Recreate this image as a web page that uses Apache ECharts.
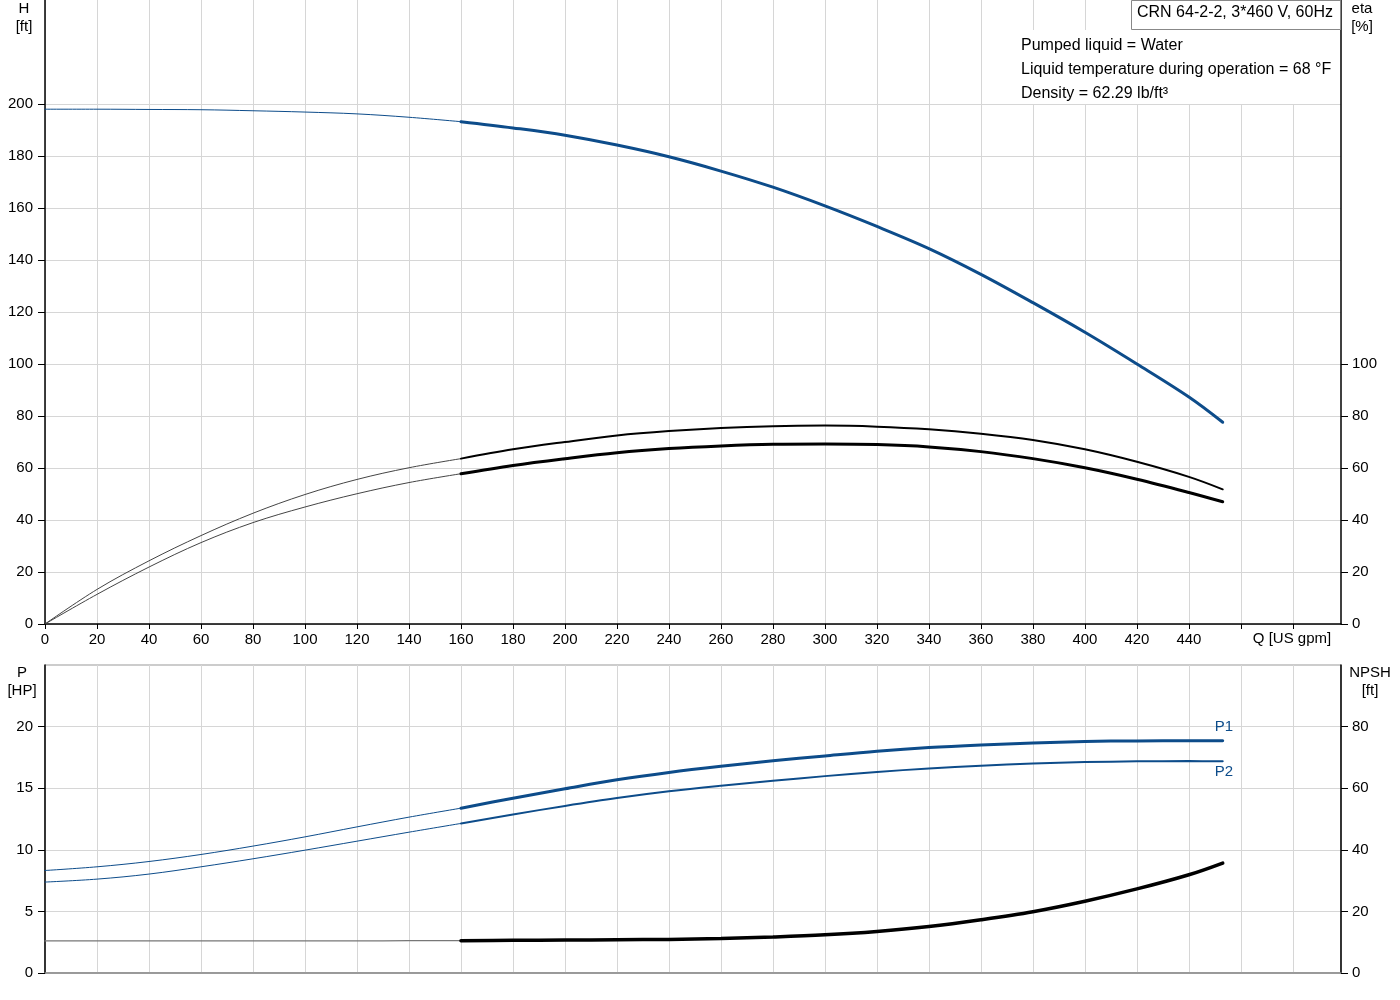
<!DOCTYPE html>
<html>
<head>
<meta charset="utf-8">
<script src="https://cdn.jsdelivr.net/npm/echarts@6/dist/echarts.min.js"></script>
<style>
  html, body { margin: 0; padding: 0; background: #fff; }
  #chart { width: 1400px; height: 1000px; }
</style>
</head>
<body>
<div id="chart"></div>
<script>
// flow points, thin (extrapolated) part and main part of each curve
var qThin = [0, 20, 40, 60, 80, 100, 120, 140, 160];
var qMain = [160, 180, 200, 220, 240, 260, 280, 300, 320, 340, 360, 380, 400, 420, 440, 453];

// head H [ft]
var hThin = [198.0, 198.0, 197.9, 197.8, 197.4, 196.9, 196.2, 194.9, 193.2];
var hMain = [193.2, 190.8, 188.0, 184.2, 179.7, 174.2, 168.0, 160.8, 152.9, 144.4, 134.5, 123.6, 112.2, 100.0, 87.3, 77.6];

// efficiencies eta [%]
var etaPThin = [0, 13.3, 24.3, 34.0, 42.6, 49.8, 55.6, 60.1, 63.6];
var etaPMain = [63.6, 67.2, 70.0, 72.5, 74.2, 75.4, 76.1, 76.3, 75.9, 74.9, 73.2, 70.8, 67.2, 62.4, 56.6, 51.8];
var etaTThin = [0, 11.4, 21.9, 31.3, 39.0, 45.0, 50.1, 54.4, 57.8];
var etaTMain = [57.8, 61.0, 63.6, 65.9, 67.5, 68.5, 69.1, 69.2, 69.0, 68.1, 66.3, 63.6, 60.1, 55.7, 50.6, 47.0];

// power P [HP]
var p1Thin = [8.32, 8.62, 9.05, 9.62, 10.3, 11.05, 11.86, 12.65, 13.38];
var p1Main = [13.38, 14.19, 14.95, 15.68, 16.28, 16.78, 17.22, 17.62, 18.0, 18.3, 18.51, 18.67, 18.79, 18.84, 18.86, 18.85];
var p2Thin = [7.38, 7.62, 8.03, 8.62, 9.27, 9.97, 10.7, 11.43, 12.14];
var p2Main = [12.14, 12.87, 13.56, 14.2, 14.75, 15.2, 15.6, 15.98, 16.32, 16.6, 16.83, 17.0, 17.12, 17.18, 17.2, 17.18];

// NPSH [ft]
var npshThin = [10.4, 10.4, 10.4, 10.4, 10.4, 10.4, 10.4, 10.5, 10.5];
var npshMain = [10.5, 10.6, 10.7, 10.8, 10.9, 11.2, 11.7, 12.4, 13.5, 15.1, 17.3, 19.9, 23.3, 27.3, 31.9, 35.7];

// tick labels
var qLabels = [0, 20, 40, 60, 80, 100, 120, 140, 160, 180, 200, 220, 240, 260, 280, 300, 320, 340, 360, 380, 400, 420, 440];
var qTicks = qLabels.concat([460, 480]);
var hLabels = [0, 20, 40, 60, 80, 100, 120, 140, 160, 180, 200];
var etaLabels = [0, 20, 40, 60, 80, 100];
var pLabels = [0, 5, 10, 15, 20];
var npshLabels = [0, 20, 40, 60, 80];

var BLUE = '#0d4c8a';
var FONT = 'Liberation Sans, Arial, sans-serif';

function pts(xs, ys) {
    return xs.map(function (x, i) { return [x, ys[i]]; });
}

function line(name, data, x, y, color, width) {
    return {
        name: name, type: 'line', xAxisIndex: x, yAxisIndex: y,
        data: data, smooth: 0.35, symbol: 'none', showSymbol: false,
        silent: true, animation: false,
        lineStyle: { color: color, width: width, cap: 'round' }
    };
}

// end-of-curve name (P1 / P2)
function withEndLabel(s, text, dy) {
    s.endLabel = {
        show: true, formatter: text, offset: [-16, dy],
        color: BLUE, fontSize: 15, fontFamily: FONT
    };
    return s;
}

var chart = echarts.init(document.getElementById('chart'));

var axLabel = { fontSize: 15, color: '#000', fontFamily: FONT };
var gridLine = { show: true, lineStyle: { color: '#d6d6d6', width: 1 } };

var option = {
    animation: false,
    grid: [
        { left: 45, right: 59, top: 0, height: 624 },
        { left: 45, right: 59, top: 665, height: 308, show: true, borderColor: '#999', borderWidth: 1 }
    ],
    xAxis: [
        {
            gridIndex: 0, type: 'value', min: 0, max: 498.5, interval: 20,
            axisLine: { show: true, lineStyle: { color: '#000', width: 1.5 } },
            axisTick: { show: true, length: 5, customValues: qTicks, lineStyle: { color: '#000' } },
            axisLabel: Object.assign({ margin: 8, customValues: qLabels }, axLabel),
            splitLine: gridLine
        },
        {
            gridIndex: 1, type: 'value', min: 0, max: 498.5, interval: 20,
            axisLine: { show: true, lineStyle: { color: '#888', width: 1.5 } },
            axisTick: { show: false },
            axisLabel: { show: false },
            splitLine: gridLine
        }
    ],
    yAxis: [
        {
            gridIndex: 0, type: 'value', min: 0, max: 240, interval: 20,
            axisLine: { show: true, lineStyle: { color: '#000', width: 1.5 } },
            axisTick: { show: true, length: 7, customValues: hLabels, lineStyle: { color: '#000' } },
            axisLabel: Object.assign({ margin: 12, customValues: hLabels }, axLabel),
            splitLine: gridLine
        },
        {
            gridIndex: 0, type: 'value', position: 'right', min: 0, max: 240, interval: 20,
            axisLine: { show: true, lineStyle: { color: '#000', width: 1.5 } },
            axisTick: { show: true, length: 7, customValues: etaLabels, lineStyle: { color: '#000' } },
            axisLabel: Object.assign({ margin: 11, customValues: etaLabels }, axLabel),
            splitLine: { show: false }
        },
        {
            gridIndex: 1, type: 'value', min: 0, max: 25, interval: 5,
            axisLine: { show: true, lineStyle: { color: '#000', width: 1.5 } },
            axisTick: { show: true, length: 7, customValues: pLabels, lineStyle: { color: '#000' } },
            axisLabel: Object.assign({ margin: 12, customValues: pLabels }, axLabel),
            splitLine: gridLine
        },
        {
            gridIndex: 1, type: 'value', position: 'right', min: 0, max: 100, interval: 20,
            axisLine: { show: true, lineStyle: { color: '#000', width: 1.5 } },
            axisTick: { show: true, length: 7, customValues: npshLabels, lineStyle: { color: '#000' } },
            axisLabel: Object.assign({ margin: 11, customValues: npshLabels }, axLabel),
            splitLine: { show: false }
        }
    ],
    series: [
        line('H thin', pts(qThin, hThin), 0, 0, BLUE, 1),
        line('H', pts(qMain, hMain), 0, 0, BLUE, 3),
        line('eta pump thin', pts(qThin, etaPThin), 0, 1, '#444', 1),
        line('eta pump', pts(qMain, etaPMain), 0, 1, '#000', 2),
        line('eta total thin', pts(qThin, etaTThin), 0, 1, '#444', 1),
        line('eta total', pts(qMain, etaTMain), 0, 1, '#000', 3),
        line('P1 thin', pts(qThin, p1Thin), 1, 2, BLUE, 1),
        withEndLabel(line('P1', pts(qMain, p1Main), 1, 2, BLUE, 3), 'P1', -14),
        line('P2 thin', pts(qThin, p2Thin), 1, 2, BLUE, 1),
        withEndLabel(line('P2', pts(qMain, p2Main), 1, 2, BLUE, 2), 'P2', 11),
        line('NPSH thin', pts(qThin, npshThin), 1, 3, '#777', 1.3),
        line('NPSH', pts(qMain, npshMain), 1, 3, '#000', 3.5)
    ],
    graphic: [
        { type: 'rect', z: 50, shape: { x: 1017, y: 30, width: 323, height: 74 }, style: { fill: '#fff' } },
        { type: 'rect', z: 50, shape: { x: 1131.5, y: 0.5, width: 209, height: 29 }, style: { fill: '#fff', stroke: '#888', lineWidth: 1 } },
        { type: 'text', z: 51, x: 1137, y: 5, style: { text: 'CRN 64-2-2, 3*460 V, 60Hz', font: '16px ' + FONT, fill: '#000' } },
        { type: 'text', z: 51, x: 1021, y: 38, style: { text: 'Pumped liquid = Water', font: '16px ' + FONT, fill: '#000' } },
        { type: 'text', z: 51, x: 1021, y: 62, style: { text: 'Liquid temperature during operation = 68 \u00b0F', font: '16px ' + FONT, fill: '#000' } },
        { type: 'text', z: 51, x: 1021, y: 86, style: { text: 'Density = 62.29 lb/ft\u00b3', font: '16px ' + FONT, fill: '#000' } },
        // axis names
        { type: 'text', x: 24, y: 0, style: { text: 'H\n[ft]', font: '15px ' + FONT, fill: '#000', align: 'center', lineHeight: 18 } },
        { type: 'text', x: 1362, y: 0, style: { text: 'eta\n[%]', font: '15px ' + FONT, fill: '#000', align: 'center', lineHeight: 18 } },
        { type: 'text', x: 22, y: 664, style: { text: 'P\n[HP]', font: '15px ' + FONT, fill: '#000', align: 'center', lineHeight: 18 } },
        { type: 'text', x: 1370, y: 664, style: { text: 'NPSH\n[ft]', font: '15px ' + FONT, fill: '#000', align: 'center', lineHeight: 18 } },
        { type: 'text', x: 1292, y: 631, style: { text: 'Q [US gpm]', font: '15px ' + FONT, fill: '#000', align: 'center' } }
    ]
};

chart.setOption(option);
</script>
</body>
</html>
